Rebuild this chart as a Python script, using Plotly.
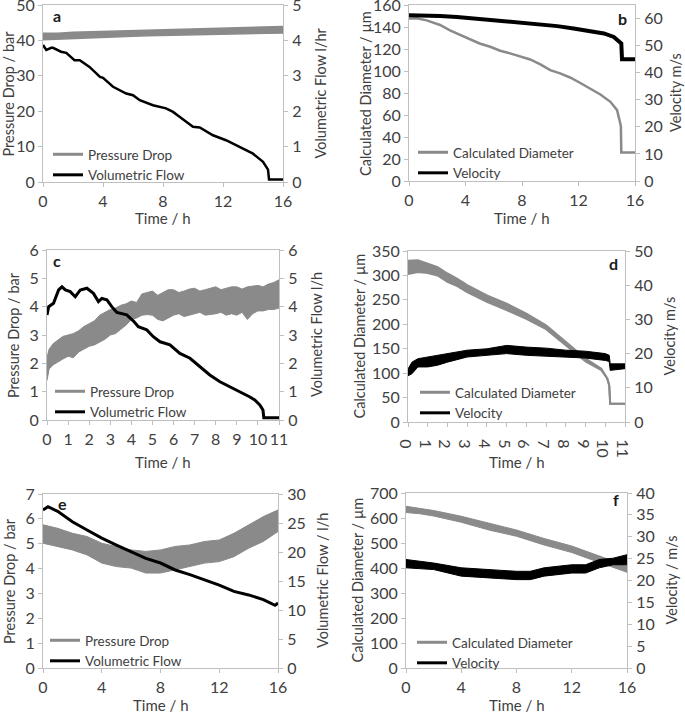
import plotly.graph_objects as go

W, H = 685, 714
FONT = "Lato"
GRAY = "#8a8a8a"
BLACK = "#000000"
AXC = "#bfbfbf"
TXT = "#404040"

# ---------------- Panel a ----------------
a_pd_t = [0, 1, 2, 3, 4, 5, 6, 7, 8, 9, 10, 11, 12, 13, 14, 15, 16]
a_pd_lo = [40.2, 40.4, 40.6, 40.8, 41.0, 41.0, 41.2, 41.3, 41.4, 41.5, 41.6, 41.7, 41.8, 41.9, 42.0, 42.1, 42.1]
a_pd_hi = [42.0, 42.0, 42.3, 42.4, 42.5, 42.6, 42.7, 42.8, 42.9, 43.0, 43.1, 43.2, 43.3, 43.4, 43.5, 43.7, 43.9]
a_vf_t = [0, 0.22, 0.55, 0.67, 1.2, 1.55, 2.1, 2.45, 3.1, 3.8, 4.0, 4.67, 5.55, 6.0, 6.45, 7.33, 8.2,
          8.67, 9.1, 10.0, 10.45, 11.33, 12.2, 13.1, 14.0, 14.67, 15.0, 15.07, 16]
a_vf = [3.87, 3.73, 3.79, 3.79, 3.68, 3.65, 3.44, 3.44, 3.25, 2.97, 2.94, 2.69, 2.5, 2.45, 2.31, 2.17, 2.08,
        1.98, 1.84, 1.56, 1.54, 1.32, 1.18, 0.99, 0.80, 0.57, 0.35, 0.07, 0.07]

# ---------------- Panel b ----------------
b_d_t = [0, 0.54, 1.25, 1.73, 2.2, 2.9, 3.6, 4.3, 5.0, 5.75, 6.45, 7.16, 7.87, 8.58, 9.3, 10.0, 10.7,
         11.4, 12.1, 12.84, 13.55, 14.26, 14.73, 14.96, 15.0, 15.03, 16]
b_d = [147.8, 148, 146, 144, 141.8, 137, 133, 128.7, 125, 122, 118.4, 116, 113.5, 110.5, 106, 100.8, 97.8,
       94.1, 89.3, 84.1, 78.6, 72, 64.4, 52.2, 49.8, 25.8, 25.8]
b_v_t = [0, 1.0, 2.2, 3.4, 4.56, 5.75, 6.9, 8.1, 9.3, 10.5, 11.65, 12.84, 13.8, 14.5, 14.85, 15.03, 15.08, 16]
b_v = [61.2, 61.2, 60.9, 60.6, 60.0, 59.4, 59.0, 58.4, 57.9, 57.2, 56.3, 55.4, 54.5, 53.2, 51.6, 50.8, 45, 45]

# ---------------- Panel c ----------------
c_pd_t = [0, 0.1, 0.3, 0.5, 0.75, 1, 1.25, 1.5, 1.75, 2, 2.25, 2.5, 2.75, 3, 3.25, 3.5, 3.75, 4, 4.25,
          4.5, 4.75, 5, 5.25, 5.5, 5.75, 6, 6.25, 6.5, 6.75, 7, 7.25, 7.5, 7.75, 8, 8.25, 8.5, 8.75, 9,
          9.25, 9.5, 9.75, 10, 10.25, 10.5, 10.75, 11]
c_pd_hi = [2.2, 2.5, 2.7, 2.8, 2.95, 3.0, 3.05, 3.15, 3.3, 3.4, 3.5, 3.7, 3.8, 3.9, 3.95, 4.05, 4.1, 4.2,
           4.15, 4.45, 4.5, 4.55, 4.4, 4.5, 4.6, 4.6, 4.5, 4.55, 4.62, 4.65, 4.55, 4.6, 4.65, 4.7, 4.6,
           4.65, 4.7, 4.7, 4.62, 4.7, 4.72, 4.75, 4.7, 4.8, 4.85, 4.95]
c_pd_lo = [1.4, 1.8, 1.95, 2.05, 2.15, 2.25, 2.2, 2.4, 2.5, 2.6, 2.65, 2.75, 2.85, 3.0, 3.05, 3.2, 3.35,
           3.55, 3.6, 3.7, 3.72, 3.7, 3.55, 3.5, 3.6, 3.7, 3.75, 3.65, 3.7, 3.75, 3.8, 3.7, 3.72, 3.75,
           3.8, 3.7, 3.75, 3.7, 3.8, 3.55, 3.75, 3.85, 3.85, 3.9, 3.9, 3.95]
c_vf_t = [0, 0.08, 0.31, 0.55, 0.71, 0.87, 1.1, 1.34, 1.58, 1.89, 2.2, 2.44, 2.6, 2.84, 3.07, 3.31, 3.78,
          4.1, 4.33, 4.73, 5.04, 5.36, 5.83, 6.3, 6.78, 7.25, 7.72, 8.2, 8.67, 9.14, 9.6, 9.85, 10.09,
          10.24, 10.28, 11]
c_vf = [3.71, 4.0, 4.12, 4.59, 4.7, 4.59, 4.53, 4.35, 4.59, 4.65, 4.47, 4.18, 4.29, 4.24, 4.0, 3.8, 3.71,
        3.49, 3.29, 3.18, 2.94, 2.76, 2.65, 2.35, 2.18, 1.88, 1.59, 1.35, 1.18, 1.0, 0.82, 0.71, 0.53,
        0.35, 0.08, 0.08]

# ---------------- Panel d ----------------
d_d_t = [0, 0.5, 1, 1.5, 2, 2.5, 3, 4, 5, 6, 7, 8, 9, 9.8, 10.1, 10.2, 10.25, 11]
d_d_hi = [330, 331, 324, 317, 304, 293, 280, 259, 242, 222, 198, 164, 130, 109, 89, 75, 37.5, 37.5]
d_d_lo = [303, 307, 305, 300, 287, 278, 266, 246, 229, 211, 190, 157, 124, 106, 89, 75, 37.5, 37.5]
d_v_t = [0, 0.2, 0.5, 1, 1.5, 2, 3, 4, 5, 6, 7, 8, 9, 10, 10.2, 10.25, 11]
d_v_hi = [15.5, 17.5, 18.5, 19.0, 19.5, 20.0, 21.0, 21.4, 22.4, 21.9, 21.6, 21.0, 20.7, 20.0, 19.5, 17.0, 17.0]
d_v_lo = [13.5, 14.1, 16.1, 16.1, 16.6, 17.5, 19.0, 19.5, 20.0, 19.5, 19.3, 19.0, 18.7, 18.0, 17.7, 15.1, 15.6]

# ---------------- Panel e ----------------
e_pd_t = [0, 1, 2, 3, 4, 5, 6, 7, 8, 9, 10, 11, 12, 13, 14, 15, 16]
e_pd_hi = [5.76, 5.62, 5.42, 5.29, 5.02, 4.89, 4.75, 4.69, 4.75, 4.89, 4.95, 5.09, 5.15, 5.42, 5.76, 6.09, 6.36]
e_pd_lo = [5.02, 4.89, 4.75, 4.55, 4.22, 4.08, 4.02, 3.82, 3.82, 3.95, 4.08, 4.22, 4.28, 4.48, 4.82, 5.09, 5.49]
e_vf_t = [0, 0.34, 1, 1.5, 2, 3, 4, 5, 6, 7, 8, 9, 10, 11, 12, 13, 14, 15, 15.8, 16]
e_vf = [27.25, 27.8, 27.0, 26.1, 25.2, 23.8, 22.4, 21.2, 20.1, 18.9, 18.1, 16.9, 16.1, 15.2, 14.3, 13.2,
        12.6, 11.8, 10.8, 11.2]

# ---------------- Panel f ----------------
f_d_t = [0, 1, 2, 4, 6, 8, 10, 12, 14, 16]
f_d_hi = [647, 640, 630, 607, 578, 552, 518, 488, 448, 408]
f_d_lo = [622, 617, 608, 583, 552, 527, 492, 462, 422, 383]
f_v_t = [0, 2, 4, 6, 8, 9, 10, 12, 13, 14, 15, 16]
f_v_hi = [24.8, 24.0, 22.9, 22.5, 22.1, 22.1, 22.9, 23.6, 23.6, 24.8, 25.1, 25.9]
f_v_lo = [22.9, 22.5, 21.0, 20.6, 20.2, 20.2, 21.0, 21.7, 21.7, 22.9, 23.6, 23.6]

# ---------------- Panel setup ----------------
panels = [
    dict(letter="a", box=(43, 283, 5, 182), xr=16, xd=4, l=(0, 50, 10), r=(0, 5, 1),
         lt="Pressure Drop / bar", rt="Volumetric Flow l/hr",
         ltx=8, rtx=320, ttl_y=218, letpos=(57, 15), leg=(53, 139)),
    dict(letter="b", box=(409, 635, 5, 181), xr=16, xd=4, l=(0, 160, 20), r=(0, 65, 10),
         lt="Calculated Diameter / µm", rt="Velocity m/s",
         ltx=366, rtx=676, ttl_y=218, letpos=(622, 18), leg=(418, 137)),
    dict(letter="c", box=(47, 279, 250, 420), xr=11, xd=1, l=(0, 6, 1), r=(0, 6, 1),
         lt="Pressure Drop / bar", rt="Volumetric Flow l/h",
         ltx=13, rtx=316, ttl_y=462, letpos=(57, 260), leg=(55, 376)),
    dict(letter="d", box=(408, 625, 251, 422), xr=11, xd=1, l=(0, 350, 50), r=(0, 50, 10),
         lt="Calculated Diameter / µm", rt="Velocity m/s",
         ltx=359, rtx=669, ttl_y=462, letpos=(613, 263), leg=(420, 377)),
    dict(letter="e", box=(43, 278, 494, 668), xr=16, xd=4, l=(0, 7, 1), r=(0, 30, 5),
         lt="Pressure Drop / bar", rt="Volumetric Flow / l/h",
         ltx=9, rtx=322, ttl_y=705, letpos=(62, 503), leg=(50, 625)),
    dict(letter="f", box=(406, 627, 493, 668), xr=16, xd=4, l=(0, 700, 100), r=(0, 40, 5),
         lt="Calculated Diameter / µm", rt="Velocity / m/s",
         ltx=357, rtx=671, ttl_y=705, letpos=(616, 500), leg=(417, 627)),
]

fig = go.Figure()
layout = dict(width=W, height=H, margin=dict(l=0, r=0, t=0, b=0), paper_bgcolor="white",
              plot_bgcolor="white", font=dict(family=FONT, size=14, color=TXT), annotations=[])


def px_x(x):
    return x / W


def px_y(y):
    return 1 - y / H


def names_for(k):
    xn = "x" if k == 0 else f"x{k + 1}"
    ly, ry = 2 * k + 1, 2 * k + 2
    lyn = "y" if ly == 1 else f"y{ly}"
    ryn = f"y{ry}"
    return xn, lyn, ryn


def key(axname):
    return f"{axname[0]}axis{axname[1:]}"


for k, p in enumerate(panels):
    xn, lyn, ryn = names_for(k)
    x0, x1, y0, y1 = p["box"]
    xd = [px_x(x0), px_x(x1)]
    yd = [px_y(y1), px_y(y0)]
    common = dict(showline=True, linecolor=AXC, linewidth=1, ticks="outside", ticklen=4, tickcolor=AXC,
                  showgrid=False, zeroline=False, tickfont=dict(size=16, color=TXT), automargin=False,
                  ticklabeloverflow="allow")
    layout[key(xn)] = dict(domain=xd, anchor=lyn, range=[0, p["xr"]], dtick=p["xd"], tick0=0, mirror=True,
                           ticklabelstandoff=1, **common)
    layout[key(lyn)] = dict(domain=yd, anchor=xn, range=[p["l"][0], p["l"][1]], dtick=p["l"][2], tick0=0,
                            ticklabelstandoff=0, **common)
    layout[key(ryn)] = dict(anchor=xn, overlaying=lyn, side="right", range=[p["r"][0], p["r"][1]],
                            dtick=p["r"][2], tick0=0, ticklabelstandoff=1, **common)
    legname = "legend" if k == 0 else f"legend{k + 1}"
    layout[legname] = dict(x=px_x(p["leg"][0] - 5), y=px_y(p["leg"][1]), xanchor="left", yanchor="top",
                           bgcolor="rgba(0,0,0,0)", borderwidth=0, font=dict(size=13.5, color=TXT),
                           traceorder="normal", itemwidth=30, tracegroupgap=0)
    cy = (y0 + y1) / 2
    anns = layout["annotations"]
    anns.append(dict(text=p["lt"], x=px_x(p["ltx"]), y=px_y(cy), xref="paper", yref="paper", textangle=-90,
                     showarrow=False, xanchor="center", yanchor="middle", font=dict(size=14.5, color=TXT)))
    anns.append(dict(text=p["rt"], x=px_x(p["rtx"]), y=px_y(cy), xref="paper", yref="paper", textangle=-90,
                     showarrow=False, xanchor="center", yanchor="middle", font=dict(size=14.5, color=TXT)))
    anns.append(dict(text="Time / h", x=px_x((x0 + x1) / 2), y=px_y(p["ttl_y"]), xref="paper", yref="paper",
                     showarrow=False, xanchor="center", yanchor="middle", font=dict(size=15, color=TXT)))
    anns.append(dict(text="<b>" + p["letter"] + "</b>", x=px_x(p["letpos"][0]), y=px_y(p["letpos"][1]),
                     xref="paper", yref="paper", showarrow=False, xanchor="center", yanchor="middle",
                     font=dict(size=16, color="#1a1a1a")))


def band(t, lo, hi, color, xa, ya, w=1.5):
    fig.add_trace(go.Scatter(x=t, y=hi, mode="lines", line=dict(color=color, width=w), xaxis=xa, yaxis=ya,
                             showlegend=False, hoverinfo="skip"))
    fig.add_trace(go.Scatter(x=t, y=lo, mode="lines", line=dict(color=color, width=w), fill="tonexty",
                             fillcolor=color, xaxis=xa, yaxis=ya, showlegend=False, hoverinfo="skip"))


def legend_line(name, color, width, xa, ya, leg):
    fig.add_trace(go.Scatter(x=[None], y=[None], mode="lines", name=name, line=dict(color=color, width=width),
                             xaxis=xa, yaxis=ya, legend=leg, showlegend=True))


def line(t, v, color, width, xa, ya):
    fig.add_trace(go.Scatter(x=t, y=v, mode="lines", line=dict(color=color, width=width), xaxis=xa, yaxis=ya,
                             showlegend=False))


# a
xa, ly, ry = names_for(0)
band(a_pd_t, a_pd_lo, a_pd_hi, GRAY, xa, ly)
line(a_vf_t, a_vf, BLACK, 2.5, xa, ry)
legend_line("Pressure Drop", GRAY, 3, xa, ly, "legend")
legend_line("Volumetric Flow", BLACK, 3, xa, ly, "legend")
# b
xa, ly, ry = names_for(1)
line(b_d_t, b_d, GRAY, 2.5, xa, ly)
line(b_v_t, b_v, BLACK, 4, xa, ry)
legend_line("Calculated Diameter", GRAY, 3, xa, ly, "legend2")
legend_line("Velocity", BLACK, 3, xa, ly, "legend2")
# c
xa, ly, ry = names_for(2)
band(c_pd_t, c_pd_lo, c_pd_hi, GRAY, xa, ly, w=1)
line(c_vf_t, c_vf, BLACK, 3, xa, ry)
legend_line("Pressure Drop", GRAY, 3, xa, ly, "legend3")
legend_line("Volumetric Flow", BLACK, 3, xa, ly, "legend3")
# d
xa, ly, ry = names_for(3)
band(d_d_t, d_d_lo, d_d_hi, GRAY, xa, ly, w=2)
band(d_v_t, d_v_lo, d_v_hi, BLACK, xa, ry, w=1)
legend_line("Calculated Diameter", GRAY, 3, xa, ly, "legend4")
legend_line("Velocity", BLACK, 3, xa, ly, "legend4")
# e
xa, ly, ry = names_for(4)
band(e_pd_t, e_pd_lo, e_pd_hi, GRAY, xa, ly, w=1)
line(e_vf_t, e_vf, BLACK, 3, xa, ry)
legend_line("Pressure Drop", GRAY, 3, xa, ly, "legend5")
legend_line("Volumetric Flow", BLACK, 3, xa, ly, "legend5")
# f
xa, ly, ry = names_for(5)
band(f_d_t, f_d_lo, f_d_hi, GRAY, xa, ly, w=1)
band(f_v_t, f_v_lo, f_v_hi, BLACK, xa, ry, w=1)
legend_line("Calculated Diameter", GRAY, 3, xa, ly, "legend6")
legend_line("Velocity", BLACK, 3, xa, ly, "legend6")

fig.update_layout(**layout)
fig.write_html("out.html", config={"displayModeBar": False},
               post_script="document.body.style.margin='0px';")
